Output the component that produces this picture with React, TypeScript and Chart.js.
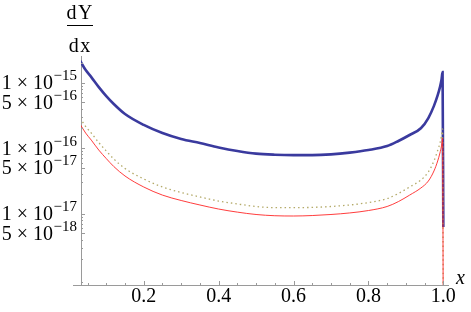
import React, { useEffect, useRef } from "react";
import { Chart, registerables } from "chart.js";

Chart.register(...registerables);

// ---- data ----
const xValues = [
  0.03, 0.045, 0.06, 0.08, 0.1, 0.12, 0.15, 0.2, 0.25, 0.3, 0.35, 0.4, 0.45, 0.5,
  0.55, 0.6, 0.65, 0.7, 0.75, 0.8, 0.85, 0.88, 0.91, 0.94, 0.96, 0.975, 0.985,
  0.991, 0.995, 0.998, 1.0,
];
const blueValues = [
  2.15e-15, 1.55e-15, 1.21e-15, 8.5e-16, 6.2e-16, 4.7e-16, 3.3e-16, 2.25e-16,
  1.69e-16, 1.37e-16, 1.19e-16, 1.02e-16, 9.0e-17, 8.2e-17, 7.9e-17, 7.8e-17,
  7.8e-17, 8.0e-17, 8.5e-17, 9.3e-17, 1.07e-16, 1.28e-16, 1.58e-16, 2.0e-16,
  2.87e-16, 4.4e-16, 6.4e-16, 8.5e-16, 1.09e-15, 1.44e-15, 6.2e-18,
];
const greenValues = [
  2.87e-16, 2.13e-16, 1.69e-16, 1.21e-16, 9.0e-17, 6.8e-17, 4.87e-17, 3.37e-17,
  2.54e-17, 2.09e-17, 1.79e-17, 1.55e-17, 1.4e-17, 1.28e-17, 1.23e-17, 1.23e-17,
  1.24e-17, 1.28e-17, 1.35e-17, 1.47e-17, 1.69e-17, 2.02e-17, 2.54e-17, 3.24e-17,
  4.31e-17, 6.34e-17, 9.2e-17, 1.19e-16, 1.52e-16, 1.95e-16, 1e-19,
];
const redValues = [
  2.32e-16, 1.69e-16, 1.32e-16, 9.3e-17, 6.9e-17, 5.22e-17, 3.74e-17, 2.54e-17,
  1.91e-17, 1.58e-17, 1.35e-17, 1.17e-17, 1.05e-17, 9.66e-18, 9.25e-18, 9.16e-18,
  9.31e-18, 9.66e-18, 1.02e-17, 1.11e-17, 1.28e-17, 1.52e-17, 1.91e-17, 2.45e-17,
  3.13e-17, 4.46e-17, 6.34e-17, 8.4e-17, 1.07e-16, 1.42e-16, 1e-19,
];

const xTicks = [0.2, 0.4, 0.6, 0.8, 1.0];
const xMinorTicks = [
  0.05, 0.1, 0.15, 0.25, 0.3, 0.35, 0.45, 0.5, 0.55, 0.65, 0.7, 0.75, 0.85, 0.9, 0.95,
];
const yTickMantissas = [1, 5, 1, 5, 1, 5];
const yTickExponents = [-15, -16, -16, -17, -17, -18];
const yMinorMantissas = [2, 3, 4, 6, 7, 8, 9];
const yMinorDecades = [-19, -18, -17, -16, -15];

const X_MIN = 0.0325;
const X_MAX = 1.0125;
const Y_MIN = 8.1e-19;
const Y_MAX = 2.54e-15;

const AXIS_COLOR = "#9a9a9a";
const SERIF = '"Liberation Serif", "Times New Roman", serif';

const decorPlugin = {
  id: "decor",
  afterDraw(chart: any) {
    const ctx = chart.ctx as CanvasRenderingContext2D;
    const xs = chart.scales.x;
    const ys = chart.scales.y;
    const area = chart.chartArea;
    ctx.save();

    // extend x axis a little to the left of the y axis
    ctx.strokeStyle = AXIS_COLOR;
    ctx.lineWidth = 1;
    ctx.beginPath();
    ctx.moveTo(area.left - 8, Math.round(area.bottom) + 0.5);
    ctx.lineTo(area.left, Math.round(area.bottom) + 0.5);
    ctx.stroke();

    // x ticks
    const tickX = (v: number, len: number) => {
      const px = Math.round(xs.getPixelForValue(v)) + 0.5;
      ctx.beginPath();
      ctx.moveTo(px, area.bottom);
      ctx.lineTo(px, area.bottom - len);
      ctx.stroke();
    };
    xTicks.forEach((v) => tickX(v, 4));
    xMinorTicks.forEach((v) => tickX(v, 2));

    // y ticks
    const tickY = (v: number, len: number) => {
      if (v < Y_MIN || v > Y_MAX) return;
      const py = Math.round(ys.getPixelForValue(v)) + 0.5;
      ctx.beginPath();
      ctx.moveTo(area.left, py);
      ctx.lineTo(area.left + len, py);
      ctx.stroke();
    };
    yMinorDecades.forEach((d) =>
      yMinorMantissas.forEach((m) => tickY(m * Math.pow(10, d), 2))
    );
    yTickMantissas.forEach((m, i) => tickY(m * Math.pow(10, yTickExponents[i]), 4));

    // y labels  m × 10^e
    ctx.fillStyle = "#000";
    ctx.textBaseline = "alphabetic";
    const rightEdge = area.left - 4;
    yTickMantissas.forEach((m, i) => {
      const e = yTickExponents[i];
      const py = ys.getPixelForValue(m * Math.pow(10, e));
      const expText = "\u2212" + String(-e);
      ctx.font = `15px ${SERIF}`;
      ctx.textAlign = "right";
      const expW = ctx.measureText(expText).width;
      ctx.fillText(expText, rightEdge, py - 2.5);
      ctx.font = `20px ${SERIF}`;
      ctx.fillText(`${m} \u00D7 10`, rightEdge - expW - 0.5, py + 6.5);
    });

    // dY/dx label
    const cx = 79.5;
    ctx.font = `20px ${SERIF}`;
    ctx.textAlign = "center";
    ctx.fillText("d\u200AY", cx, 19);
    ctx.fillText("d\u200Ax", cx, 52);
    ctx.strokeStyle = "#000";
    ctx.beginPath();
    ctx.moveTo(67, 25.5);
    ctx.lineTo(93, 25.5);
    ctx.stroke();

    // x axis label
    ctx.font = `italic 20px ${SERIF}`;
    ctx.textAlign = "left";
    ctx.fillText("x", 456, 284);

    ctx.restore();
  },
};

export default function App() {
  const ref = useRef<HTMLCanvasElement | null>(null);

  useEffect(() => {
    if (!ref.current) return;
    const chart = new Chart(ref.current, {
      type: "line",
      data: {
        datasets: [
          {
            data: xValues.map((x, i) => ({ x, y: redValues[i] })),
            borderColor: "rgba(255,40,40,0.9)",
            borderWidth: 1,
            pointRadius: 0,
            cubicInterpolationMode: "monotone",
          },
          {
            data: xValues.map((x, i) => ({ x, y: greenValues[i] })),
            borderColor: "rgb(180,170,105)",
            borderWidth: 1.3,
            borderDash: [1.5, 3],
            pointRadius: 0,
            cubicInterpolationMode: "monotone",
          },
          {
            data: xValues.map((x, i) => ({ x, y: blueValues[i] })),
            borderColor: "rgb(58,58,158)",
            borderWidth: 2.6,
            pointRadius: 0,
            cubicInterpolationMode: "monotone",
          },
        ],
      },
      options: {
        animation: false,
        responsive: false,
        devicePixelRatio: 1,
        layout: { padding: { left: 0, right: 23, top: 56, bottom: 0 } },
        plugins: { legend: { display: false }, tooltip: { enabled: false } },
        scales: {
          x: {
            type: "linear",
            min: X_MIN,
            max: X_MAX,
            grid: { display: false, drawTicks: false },
            border: { display: true, color: AXIS_COLOR, width: 1 },
            ticks: {
              color: "#000",
              font: { family: SERIF, size: 20 },
              padding: 0,
              maxRotation: 0,
              autoSkip: false,
              callback: (v: any) => Number(v).toFixed(1),
            },
            afterBuildTicks: (s: any) => {
              s.ticks = xTicks.map((v) => ({ value: v }));
            },
            afterFit: (s: any) => {
              s.height = 27;
            },
          },
          y: {
            type: "logarithmic",
            min: Y_MIN,
            max: Y_MAX,
            grid: { display: false, drawTicks: false },
            border: { display: true, color: AXIS_COLOR, width: 1 },
            ticks: { display: false },
            afterFit: (s: any) => {
              s.width = 81;
            },
          },
        },
      } as any,
      plugins: [decorPlugin],
    });
    return () => chart.destroy();
  }, []);

  return (
    <div style={{ position: "absolute", left: 0, top: 0, width: 471, height: 312, background: "#fff" }}>
      <canvas ref={ref} width={471} height={312} style={{ width: 471, height: 312 }} />
    </div>
  );
}
